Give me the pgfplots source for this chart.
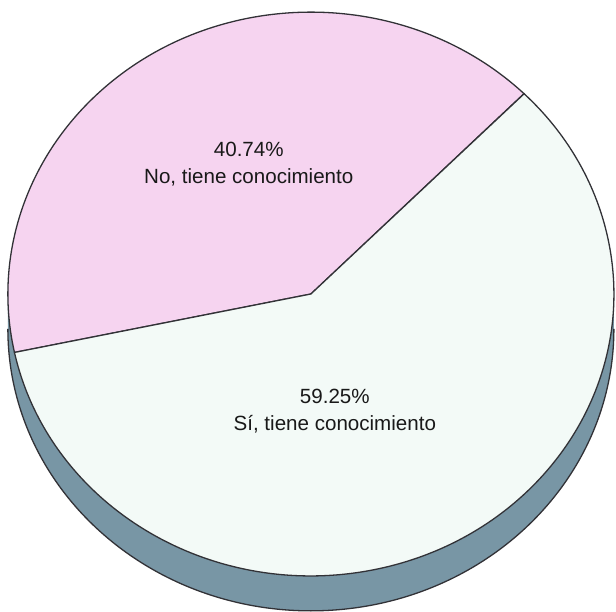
\documentclass[border=0pt]{standalone}
\usepackage{pgfplots}
\pgfplotsset{compat=1.18}
\usepackage{pgfplotstable}
\usepackage{fontspec}
\setmainfont{Liberation Sans}
\definecolor{pinkslice}{RGB}{246,212,240}
\definecolor{whiteslice}{RGB}{243,250,247}
\definecolor{sidecol}{RGB}{120,150,165}
\definecolor{edgecol}{RGB}{50,50,55}
\pgfplotstableread{
label value
No 40.74
Si 59.25
}\piedata
\begin{document}
\begin{tikzpicture}
\pgfplotstablegetelem{0}{value}\of\piedata \let\vNo\pgfplotsretval
\pgfplotstablegetelem{1}{value}\of\piedata \let\vSi\pgfplotsretval
\pgfmathsetmacro\aStart{45.3}
\pgfmathsetmacro\aMid{\aStart+3.6*\vNo}
\pgfmathsetmacro\aEnd{\aMid+3.6*\vSi}
\pgfmathsetmacro\thick{0.124}
\begin{axis}[hide axis, scale only axis, width=10cm, height=9.935cm,
  xmin=-1.026, xmax=1.007, ymin=-1.128, ymax=1.043, clip=true]
% side (3D depth)
\fill[sidecol] (axis cs:-1,0) -- (axis cs:-1,-\thick)
  arc[start angle=180, end angle=360, x radius=1, y radius=1]
  -- (axis cs:1,0)
  arc[start angle=0, end angle=-180, x radius=1, y radius=1] -- cycle;
\draw[edgecol, line width=0.6pt] (axis cs:-1,-\thick)
  arc[start angle=180, end angle=360, x radius=1, y radius=1];
% top face slices
\filldraw[fill=pinkslice, draw=edgecol, line width=0.6pt] (axis cs:0,0)
  -- (axis cs:{cos(\aStart)},{sin(\aStart)})
  arc[start angle=\aStart, end angle=\aMid, x radius=1, y radius=1] -- cycle;
\filldraw[fill=whiteslice, draw=edgecol, line width=0.6pt] (axis cs:0,0)
  -- (axis cs:{cos(\aMid)},{sin(\aMid)})
  arc[start angle=\aMid, end angle=\aEnd, x radius=1, y radius=1] -- cycle;
% labels
\node[align=center, font=\fontsize{9.5}{12.5}\selectfont, text=black!90]
  at (axis cs:-0.205,0.461) {40.74\%\\No, tiene conocimiento};
\node[align=center, font=\fontsize{9.5}{12.5}\selectfont, text=black!90]
  at (axis cs:0.079,-0.415) {59.25\%\\Sí, tiene conocimiento};
\end{axis}
\end{tikzpicture}
\end{document}
